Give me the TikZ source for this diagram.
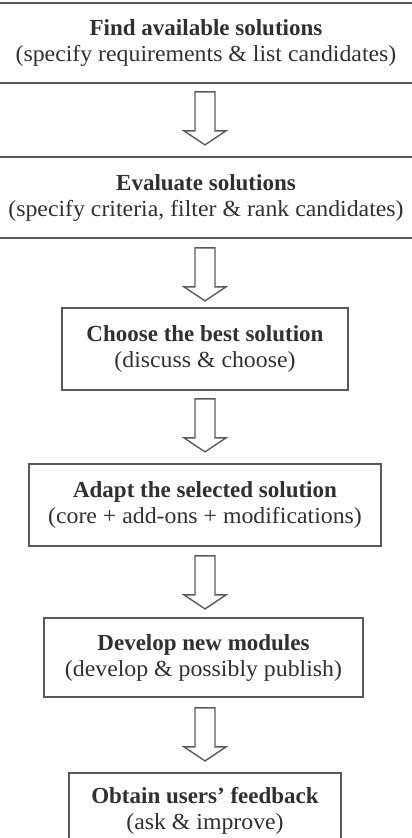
\documentclass[tikz,border=0pt]{standalone}
\usepackage{fontspec}
\setmainfont{Liberation Serif}[UprightFeatures={FakeStretch=1.035}]
\definecolor{linegray}{HTML}{5A5A5A}
\definecolor{textgray}{HTML}{303030}
\begin{document}
\begin{tikzpicture}[x=1pt,y=1pt,
  stepbox/.style={draw=linegray, line width=1.8pt, align=center, inner sep=0pt,
    text=textgray, font=\fontsize{23}{26}\selectfont},
  arrowline/.style={draw=linegray, line width=1.4pt, line join=miter},
  downarrow/.pic={\draw[arrowline] (-10,0) -- (-10,-39) -- (-21,-39) -- (0,-53)
    -- (21,-39) -- (10,-39) -- (10,0) -- cycle;}]
\useasboundingbox (0,0) rectangle (412,-838);
\node[stepbox, minimum width=440pt, minimum height=80pt] (b1) at (206,-43)
  {\textbf{Find available solutions}\\(specify requirements \& list candidates)};
\node[stepbox, minimum width=440pt, minimum height=81pt] (b2) at (206,-197.5)
  {\textbf{Evaluate solutions}\\(specify criteria, filter \& rank candidates)};
\node[stepbox, minimum width=286pt, minimum height=82pt] (b3) at (205,-349)
  {\textbf{Choose the best solution}\\(discuss \& choose)};
\node[stepbox, minimum width=352pt, minimum height=82pt] (b4) at (205,-505)
  {\textbf{Adapt the selected solution}\\(core + add-ons + modifications)};
\node[stepbox, minimum width=319pt, minimum height=79pt] (b5) at (203.5,-657.5)
  {\textbf{Develop new modules}\\(develop \& possibly publish)};
\node[stepbox, minimum width=272pt, minimum height=76pt] (b6) at (205,-811)
  {\textbf{Obtain users’ feedback}\\(ask \& improve)};
\pic (a1) at ([yshift=-8pt]b1.south -| 205,0) {downarrow};
\pic (a2) at ([yshift=-9pt]b2.south -| 205,0) {downarrow};
\pic (a3) at ([yshift=-8pt]b3.south) {downarrow};
\pic (a4) at ([yshift=-9pt]b4.south) {downarrow};
\pic (a5) at ([yshift=-10pt]b5.south -| 205,0) {downarrow};
\end{tikzpicture}
\end{document}
